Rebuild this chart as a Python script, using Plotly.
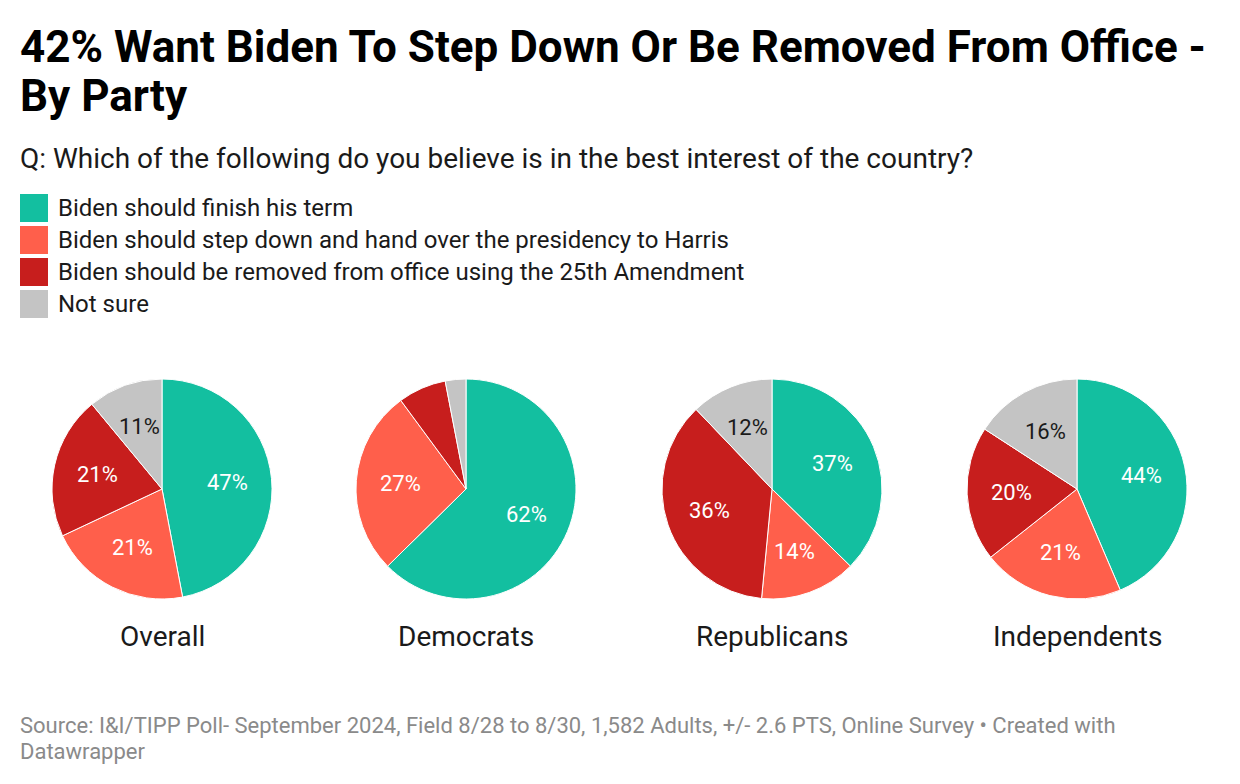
import plotly.graph_objects as go
import numpy as np

# data
answers = ['Biden should finish his term',
           'Biden should step down and hand over the presidency to Harris',
           'Biden should be removed from office using the 25th Amendment',
           'Not sure']
groups = ['Overall', 'Democrats', 'Republicans', 'Independents']
overall = [47, 21, 21, 11]
democrats = [62, 27, 7, 3]
republicans = [37, 14, 36, 12]
independents = [44, 21, 20, 16]
colors = ['#13bfa0', '#ff5f4b', '#c71e1d', '#c4c4c4']
label_colors = ['white', 'white', 'white', '#1a1a1a']

title_lines = ['42% Want Biden To Step Down Or Be Removed From Office -', 'By Party']
subtitle = 'Q: Which of the following do you believe is in the best interest of the country?'
footer_lines = ['Source: I&amp;I/TIPP Poll- September 2024, Field 8/28 to 8/30, 1,582 Adults, '
                '+/- 2.6 PTS, Online Survey \u2022 Created with', 'Datawrapper']

W, H = 1240, 784
centers_x = [162, 466, 772, 1077]
center_y = 489
radius = 110


def py2paper(py):
    return 1 - py / H


fig = go.Figure()
annotations = []

for name, vals, cx in zip(groups, [overall, democrats, republicans, independents], centers_x):
    fig.add_trace(go.Pie(
        labels=answers, values=vals, sort=False, direction='clockwise', rotation=0,
        marker=dict(colors=colors, line=dict(color='white', width=1)),
        textinfo='none', hoverinfo='label+percent', showlegend=False,
        domain=dict(x=[(cx - radius) / W, (cx + radius) / W],
                    y=[py2paper(center_y + radius), py2paper(center_y - radius)]),
    ))
    # value labels at 0.6 radius along each slice's mid angle
    vals_arr = np.array(vals, dtype=float)
    mids = (np.cumsum(vals_arr) - vals_arr / 2) / vals_arr.sum() * 2 * np.pi
    for v, a, tc in zip(vals, mids, label_colors):
        if v < 8:
            continue
        px = cx + 0.6 * radius * np.sin(a)
        py = center_y - 0.6 * radius * np.cos(a)
        annotations.append(dict(x=px / W, y=py2paper(py), xref='paper', yref='paper',
                                text=f'{v}%', showarrow=False,
                                xanchor='center', yanchor='middle',
                                font=dict(family='Roboto', size=22, color=tc)))
    annotations.append(dict(x=cx / W, y=py2paper(636), xref='paper', yref='paper',
                            text=name, showarrow=False, xanchor='center', yanchor='middle',
                            font=dict(family='Roboto', size=28, color='#1a1a1a')))

# title, subtitle, footer
for i, line in enumerate(title_lines):
    annotations.append(dict(x=18 / W, y=py2paper(47 + i * 49), xref='paper', yref='paper',
                            xanchor='left', yanchor='middle', showarrow=False,
                            text=f'<b>{line}</b>',
                            font=dict(family='Roboto', size=44, color='#000000')))
annotations.append(dict(x=18 / W, y=py2paper(158), xref='paper', yref='paper', xanchor='left',
                        yanchor='middle', showarrow=False, text=subtitle,
                        font=dict(family='Roboto', size=28, color='#1a1a1a')))
for i, line in enumerate(footer_lines):
    annotations.append(dict(x=18 / W, y=py2paper(725 + i * 26), xref='paper', yref='paper',
                            xanchor='left', yanchor='middle', showarrow=False, text=line,
                            font=dict(family='Roboto', size=22, color='#8a8a8a')))

# legend drawn by hand
shapes = []
for i, (ans, col) in enumerate(zip(answers, colors)):
    y0 = 194 + i * 32
    shapes.append(dict(type='rect', xref='paper', yref='paper',
                       x0=20 / W, x1=48 / W, y0=py2paper(y0 + 28), y1=py2paper(y0),
                       fillcolor=col, line=dict(width=0)))
    annotations.append(dict(x=56 / W, y=py2paper(y0 + 14), xref='paper', yref='paper',
                            xanchor='left', yanchor='middle', showarrow=False, text=ans,
                            font=dict(family='Roboto', size=24, color='#1a1a1a')))

fig.update_layout(width=W, height=H, margin=dict(l=0, r=0, t=0, b=0),
                  paper_bgcolor='white', plot_bgcolor='white',
                  annotations=annotations, shapes=shapes)

fig.write_html('out.html', config={'displayModeBar': False},
               post_script="document.body.style.margin = '0';")
